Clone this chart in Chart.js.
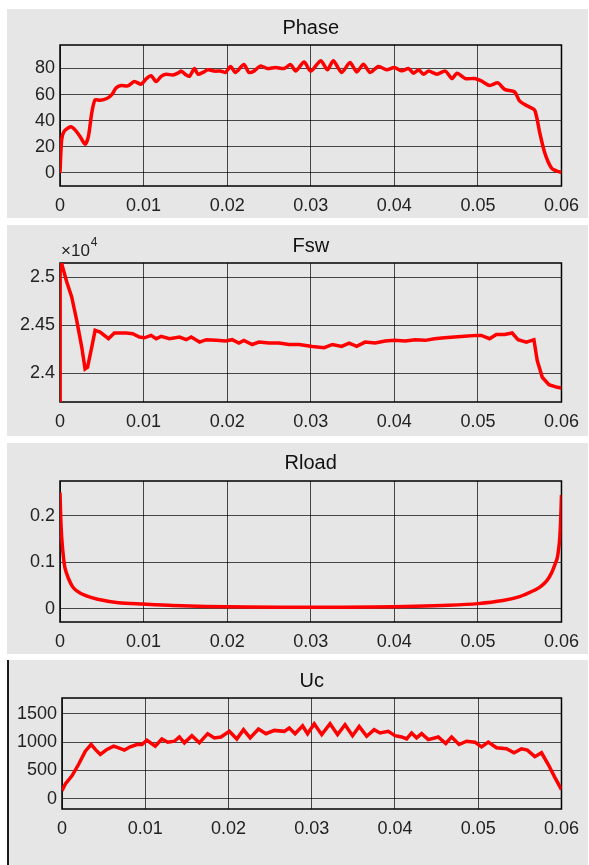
<!DOCTYPE html>
<html>
<head>
<meta charset="utf-8">
<script src="https://cdn.jsdelivr.net/npm/chart.js@4.4.0/dist/chart.umd.min.js"></script>
<style>
body { margin: 0; background: #fff; width: 589px; height: 865px; position: relative; overflow: hidden; }
.panel { position: absolute; left: 7px; width: 581px; background: #e6e6e6; }
.panel canvas { position: absolute; left: 0; top: 0; }
#p4 { box-shadow: inset 2px 0 0 #1a1a1a; }
</style>
</head>
<body>
<div class="panel" id="p1" style="top:9px;height:209px"><canvas id="c1" width="581" height="209"></canvas></div>
<div class="panel" id="p2" style="top:225px;height:211px"><canvas id="c2" width="581" height="211"></canvas></div>
<div class="panel" id="p3" style="top:443px;height:211px"><canvas id="c3" width="581" height="211"></canvas></div>
<div class="panel" id="p4" style="top:660px;height:205px"><canvas id="c4" width="581" height="205"></canvas></div>
<script>
// shared time axis
const timeTicks = [0, 0.01, 0.02, 0.03, 0.04, 0.05, 0.06];
const timeLabels = ['0', '0.01', '0.02', '0.03', '0.04', '0.05', '0.06'];

// Phase
const phaseT = [0, 0.0002, 0.0005, 0.0013, 0.0018, 0.0024, 0.003, 0.0034, 0.0038, 0.0042, 0.0048, 0.0056, 0.0062, 0.0067, 0.0073, 0.0081, 0.0089, 0.0097, 0.0103, 0.0109, 0.0115, 0.0121, 0.0127, 0.0135, 0.0141, 0.0145, 0.0151, 0.0155, 0.0161, 0.0165, 0.0171, 0.0177, 0.0185, 0.0192, 0.0198, 0.0204, 0.021, 0.022, 0.0226, 0.0232, 0.024, 0.0248, 0.0258, 0.0268, 0.0276, 0.0282, 0.0292, 0.03, 0.0312, 0.032, 0.0327, 0.0337, 0.0347, 0.0355, 0.0363, 0.0371, 0.0381, 0.0391, 0.04, 0.0409, 0.0417, 0.0423, 0.0429, 0.0435, 0.0441, 0.0451, 0.0461, 0.0469, 0.0475, 0.0485, 0.0496, 0.0504, 0.0514, 0.0524, 0.0532, 0.0544, 0.055, 0.056, 0.0568, 0.0574, 0.058, 0.0588, 0.0595, 0.06];
const phaseV = [0, 25.6, 32, 35.4, 33, 28, 22, 28, 46, 56, 55.6, 57, 60, 65, 67, 66.7, 70, 68, 72, 74.4, 70, 74, 75.6, 75, 76.4, 78, 75, 74, 80, 75.6, 77, 79, 78, 78, 77, 81.5, 77, 83, 77, 78, 82, 80, 80.8, 80, 83, 78, 85, 78, 86, 79, 86, 77, 84.6, 77.4, 83.3, 77, 81.5, 79, 80.8, 78.2, 80, 76.4, 79, 75.6, 78, 75.6, 78, 72.3, 76.4, 72.3, 72.3, 70.5, 67, 69, 64, 62, 55, 51, 48, 30.8, 15.4, 3.8, 1.3, 0.5];
const phaseTicks = [0, 20, 40, 60, 80];
const phaseLabels = ['0', '20', '40', '60', '80'];

// Fsw (Hz)
const fswT = [0, 0.00002, 0.0008, 0.0014, 0.002, 0.0026, 0.003, 0.0033, 0.0038, 0.0042, 0.0048, 0.0058, 0.0065, 0.0079, 0.0087, 0.0095, 0.0101, 0.0109, 0.0115, 0.0121, 0.0131, 0.0143, 0.0151, 0.0157, 0.0167, 0.0175, 0.0187, 0.0198, 0.0206, 0.0214, 0.022, 0.023, 0.0238, 0.025, 0.0262, 0.0274, 0.0286, 0.0302, 0.0316, 0.0326, 0.0337, 0.0346, 0.0355, 0.0365, 0.0377, 0.0389, 0.04, 0.0413, 0.0425, 0.0437, 0.0448, 0.046, 0.0472, 0.0484, 0.0498, 0.0504, 0.0514, 0.0522, 0.0532, 0.0541, 0.0548, 0.0558, 0.0567, 0.0571, 0.0577, 0.0585, 0.0595, 0.06];
const fswV = [20000, 25200, 24955, 24797, 24552, 24273, 24045, 24063, 24273, 24448, 24430, 24360, 24420, 24420, 24413, 24378, 24370, 24395, 24360, 24385, 24360, 24378, 24350, 24378, 24325, 24350, 24343, 24336, 24350, 24315, 24343, 24300, 24325, 24315, 24315, 24300, 24300, 24280, 24266, 24300, 24280, 24315, 24280, 24325, 24315, 24336, 24343, 24336, 24350, 24343, 24360, 24370, 24378, 24385, 24395, 24395, 24360, 24405, 24405, 24420, 24350, 24325, 24350, 24133, 23958, 23881, 23853, 23846];
const fswTicks = [24000, 24500, 25000];
const fswLabels = ['2.4', '2.45', '2.5'];

// Rload
const rloadT = [0, 0.0001, 0.0002, 0.0004, 0.0006, 0.001, 0.0015, 0.002, 0.003, 0.0045, 0.007, 0.01, 0.0135, 0.0175, 0.0225, 0.03, 0.0375, 0.0425, 0.0465, 0.05, 0.053, 0.055, 0.0565, 0.0575, 0.0583, 0.0588, 0.0592, 0.0595, 0.0597, 0.0598, 0.0599, 0.06];
const rloadV = [0.25, 0.19, 0.155, 0.113, 0.088, 0.066, 0.048, 0.039, 0.029, 0.021, 0.0135, 0.0105, 0.0075, 0.0055, 0.0042, 0.0038, 0.0042, 0.0058, 0.008, 0.0115, 0.018, 0.0265, 0.038, 0.048, 0.062, 0.077, 0.095, 0.11, 0.135, 0.155, 0.19, 0.245];
const rloadTicks = [0, 0.1, 0.2];
const rloadLabels = ['0', '0.1', '0.2'];

// Uc
const ucT = [0, 0.0004, 0.0012, 0.002, 0.0028, 0.0035, 0.004, 0.0046, 0.0054, 0.0062, 0.0068, 0.0075, 0.0082, 0.009, 0.0096, 0.0102, 0.0112, 0.012, 0.0127, 0.0135, 0.0141, 0.0147, 0.0156, 0.0165, 0.0175, 0.0183, 0.0191, 0.0201, 0.021, 0.0218, 0.0226, 0.0236, 0.0245, 0.0255, 0.0267, 0.0273, 0.028, 0.0289, 0.0295, 0.0303, 0.0312, 0.0322, 0.0331, 0.034, 0.0349, 0.0357, 0.0366, 0.0375, 0.0382, 0.0392, 0.04, 0.0408, 0.0414, 0.042, 0.0426, 0.0432, 0.044, 0.0452, 0.0461, 0.0468, 0.0477, 0.0486, 0.0496, 0.0504, 0.0512, 0.0522, 0.0534, 0.0543, 0.0552, 0.0559, 0.0568, 0.0576, 0.0584, 0.0592, 0.06];
const ucV = [145, 261, 407, 610, 842, 959, 872, 784, 872, 930, 900, 860, 918, 959, 959, 1034, 930, 1057, 1000, 1017, 1092, 988, 1115, 988, 1150, 1075, 1092, 1191, 1057, 1220, 1075, 1232, 1150, 1208, 1191, 1249, 1150, 1290, 1150, 1325, 1133, 1325, 1133, 1307, 1115, 1278, 1104, 1220, 1162, 1191, 1115, 1092, 1057, 1162, 1075, 1150, 1046, 1092, 976, 1092, 959, 1017, 1000, 918, 1000, 901, 883, 813, 883, 860, 744, 813, 610, 378, 163];
const ucTicks = [0, 500, 1000, 1500];
const ucLabels = ['0', '500', '1000', '1500'];

const FONT = "'Liberation Sans', Arial, Helvetica, sans-serif";
const TEXT = '#222';
const GRID = 'rgba(0,0,0,0.7)';

// black box round the plot area, like MATLAB "box on"
const axesBox = {
    id: 'axesBox',
    beforeDatasetsDraw(chart) {
        const a = chart.chartArea;
        const c = chart.ctx;
        c.save();
        c.strokeStyle = '#000';
        c.lineWidth = 1.5;
        c.strokeRect(a.left, a.top, a.right - a.left, a.bottom - a.top);
        c.restore();
    }
};

// "x10^4" exponent label above the Fsw y axis
const expLabel = {
    id: 'expLabel',
    afterDraw(chart) {
        const c = chart.ctx;
        const a = chart.chartArea;
        c.save();
        c.fillStyle = TEXT;
        c.textBaseline = 'middle';
        c.font = '17px ' + FONT;
        c.fillText('\u00d710', a.left + 1, a.top - 12);
        const w = c.measureText('\u00d710').width;
        c.font = '12px ' + FONT;
        c.fillText('4', a.left + 2 + w, a.top - 20);
        c.restore();
    }
};

function makeChart(id, title, t, v, yMin, yMax, yTicks, yLabels, g, extra) {
    const ctx = document.getElementById(id).getContext('2d');
    return new Chart(ctx, {
        type: 'line',
        data: {
            datasets: [{
                data: t.map((x, i) => ({ x: x, y: v[i] })),
                borderColor: '#ff0000',
                borderWidth: 3.5,
                pointRadius: 0,
                tension: g.tension || 0,
                fill: false,
            }],
        },
        options: {
            responsive: false,
            animation: false,
            layout: { padding: { left: 0, right: g.padRight, top: 0, bottom: 0 } },
            scales: {
                x: {
                    type: 'linear',
                    min: 0,
                    max: 0.06,
                    afterBuildTicks: (s) => { s.ticks = timeTicks.map((val) => ({ value: val })); },
                    afterFit: (s) => { s.height = g.xHeight; },
                    ticks: {
                        autoSkip: false,
                        maxRotation: 0,
                        padding: 9,
                        color: TEXT,
                        font: { size: 18, family: FONT },
                        callback: (val, i) => timeLabels[i],
                    },
                    grid: { color: GRID, lineWidth: 1, drawTicks: false },
                    border: { display: false },
                },
                y: {
                    type: 'linear',
                    min: yMin,
                    max: yMax,
                    afterBuildTicks: (s) => { s.ticks = yTicks.map((val) => ({ value: val })); },
                    afterFit: (s) => { s.width = g.yWidth; },
                    ticks: {
                        autoSkip: false,
                        padding: 5,
                        color: TEXT,
                        font: { size: 18, family: FONT },
                        callback: (val, i) => yLabels[i],
                    },
                    grid: { color: GRID, lineWidth: 1, drawTicks: false },
                    border: { display: false },
                },
            },
            plugins: {
                legend: { display: false },
                tooltip: { enabled: false },
                title: {
                    display: true,
                    text: title,
                    fullSize: false,
                    color: '#111',
                    font: { size: 20, family: FONT, weight: 'normal' },
                    padding: { top: g.titleTop, bottom: g.titleBottom },
                },
            },
        },
        plugins: [axesBox].concat(extra || []),
    });
}

makeChart('c1', 'Phase', phaseT, phaseV, -10, 98, phaseTicks, phaseLabels,
    { yWidth: 53, xHeight: 32, padRight: 23, titleTop: 7, titleBottom: 5, tension: 0.25 });
makeChart('c2', 'Fsw', fswT, fswV, 23700, 25150, fswTicks, fswLabels,
    { yWidth: 53, xHeight: 34, padRight: 23, titleTop: 9, titleBottom: 5 }, [expLabel]);
makeChart('c3', 'Rload', rloadT, rloadV, -0.028, 0.275, rloadTicks, rloadLabels,
    { yWidth: 53, xHeight: 32, padRight: 23, titleTop: 8, titleBottom: 6, tension: 0.3 });
makeChart('c4', 'Uc', ucT, ucV, -180, 1780, ucTicks, ucLabels,
    { yWidth: 55, xHeight: 56, padRight: 21, titleTop: 9, titleBottom: 5 });
</script>
</body>
</html>
